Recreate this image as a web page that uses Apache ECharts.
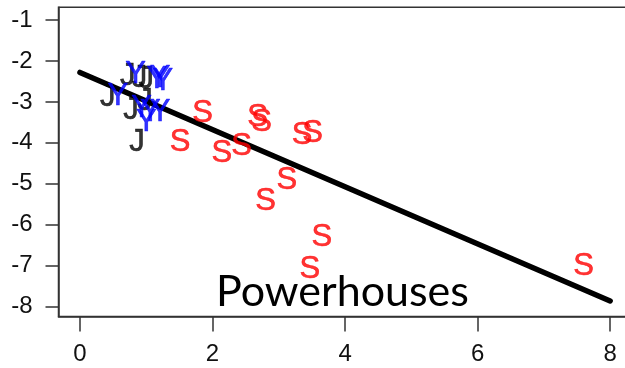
<!DOCTYPE html>
<html>
<head>
<meta charset="utf-8">
<script src="https://cdn.jsdelivr.net/npm/echarts@6/dist/echarts.min.js"></script>
<style>html,body{margin:0;padding:0;background:#fff;}#c{width:625px;height:368px;}</style>
</head>
<body>
<div id="c"></div>
<script>
// Data
const sX = [1.85, 1.51, 2.14, 2.44, 2.68, 2.74, 3.35, 3.51, 3.12, 2.80, 3.65, 3.47, 7.60];
const sY = [-3.27, -4.00, -4.25, -4.10, -3.39, -3.49, -3.81, -3.76, -4.91, -5.42, -6.32, -7.10, -7.01];
const jX = [0.72, 0.90, 1.00, 0.42, 0.98, 0.77, 0.86];
const jY = [-2.39, -2.42, -2.44, -2.88, -3.00, -3.20, -3.98];
const yX = [0.84, 0.57, 1.16, 1.21, 1.25, 1.06, 1.21, 1.00, 0.93];
const yY = [-2.34, -2.86, -2.46, -2.42, -2.51, -3.25, -3.25, -3.49, -3.15];
const fitX = [0, 8];
const fitY = [-2.28, -7.86];
const xTicks = [0, 2, 4, 6, 8];
const yTicks = [-8, -7, -6, -5, -4, -3, -2, -1];
const title = 'Powerhouses';

const zip = (a, b) => a.map((v, i) => [v, b[i]]);
const textSeries = (x, y, ch, color) => ({
  type: 'scatter',
  data: zip(x, y),
  symbol: 'circle',
  symbolSize: 1,
  itemStyle: { color: 'rgba(0,0,0,0)' },
  z: 3,
  silent: true,
  label: {
    show: true, formatter: ch, position: 'inside',
    color: color, fontSize: 31, fontFamily: 'Liberation Sans',
    textBorderColor: color, textBorderWidth: 0.6, align: 'center', verticalAlign: 'middle'
  }
});

const chart = echarts.init(document.getElementById('c'), null, { renderer: 'canvas' });
chart.setOption({
  animation: false,
  grid: { left: 58.5, top: 7.3, width: 579.5, bottom: 51.5, show: true, borderColor: '#333', borderWidth: 1.5,
    containLabel: false, outerBoundsMode: 'none' },
  xAxis: {
    type: 'value', min: -0.324, max: 8.42,
    splitLine: { show: false },
    axisLine: { show: true, onZero: false, lineStyle: { color: '#333', width: 1.5 } },
    axisTick: { show: true, customValues: xTicks, length: 15, inside: false, lineStyle: { color: '#333', width: 1.5 } },
    axisLabel: { customValues: xTicks, fontSize: 24, fontFamily: 'Liberation Sans', color: '#111', margin: 26 }
  },
  yAxis: {
    type: 'value', min: -8.24, max: -0.69,
    splitLine: { show: false },
    axisLine: { show: true, onZero: false, lineStyle: { color: '#333', width: 1.5 } },
    axisTick: { show: true, customValues: yTicks, length: 13, inside: false, lineStyle: { color: '#333', width: 1.5 } },
    axisLabel: { customValues: yTicks, fontSize: 24, fontFamily: 'Liberation Sans', color: '#111', margin: 26 }
  },
  series: [
    {
      type: 'line', data: zip(fitX, fitY), showSymbol: false, silent: true, z: 2,
      lineStyle: { color: '#000', width: 5.5, cap: 'round' }
    },
    textSeries(jX, jY, 'J', '#000'),
    textSeries(sX, sY, 'S', '#ff0000'),
    textSeries(yX, yY, 'Y', '#0000ff')
  ],
  graphic: [{
    type: 'text', z: 10,
    style: { text: title, x: 342.5, y: 292, align: 'center', verticalAlign: 'middle',
      fontSize: 43, fontFamily: 'Lato', fill: '#000' }
  }]
});
</script>
</body>
</html>
